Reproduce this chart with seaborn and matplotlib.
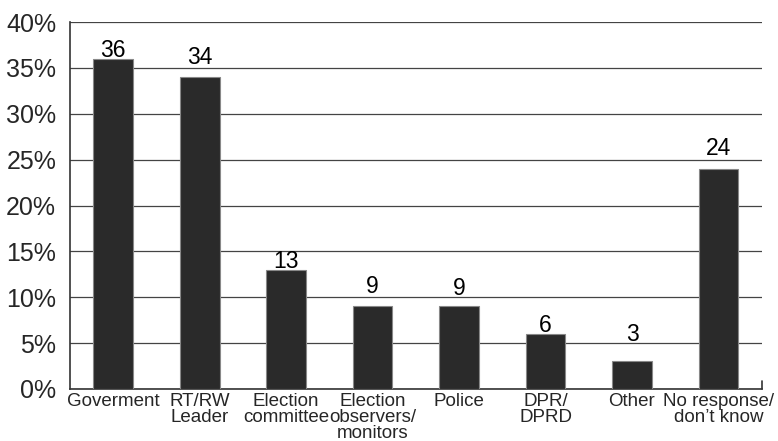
import numpy as np
import pandas as pd
import seaborn as sns
import matplotlib.pyplot as plt
from matplotlib.ticker import PercentFormatter

categories = ['Goverment', 'RT/RW\nLeader', 'Election\ncommittee', 'Election\nobservers/\nmonitors',
              'Police', 'DPR/\nDPRD', 'Other', 'No response/\ndon\u2019t know']
values = [36, 34, 13, 9, 9, 6, 3, 24]
# gap (points) between bar top and its number, as placed in the original
label_gap = [1.5, 9.5, 1, 9.5, 8, 1.5, 14.5, 10]

df = pd.DataFrame({'source': categories, 'pct': values})

sns.set_style('white')
plt.rcParams['font.family'] = ['Liberation Sans', 'DejaVu Sans']

fig = plt.figure(figsize=(7.78, 4.41), dpi=100)
ax = fig.add_axes([0.09, 0.118, 0.889, 0.832])

sns.barplot(data=df, x='source', y='pct', color='#2a2a2a', width=0.46,
            edgecolor='#888888', linewidth=0.8, saturation=1, ax=ax, zorder=3)

#value labels on top
for i, v in enumerate(values):
    ax.annotate(str(v), (i, v), xytext=(0, label_gap[i]), textcoords='offset points',
                ha='center', va='baseline', fontsize=16.5, color='black')

ax.set_ylim(0, 40)
ax.set_yticks(np.arange(0, 41, 5))
ax.yaxis.set_major_formatter(PercentFormatter(decimals=0))
ax.yaxis.grid(True, color='#444444', linewidth=0.9, zorder=0)
ax.set_axisbelow(True)
ax.set_xlim(-0.5, len(categories) - 0.5)
ax.set_xlabel('')
ax.set_ylabel('')
ax.tick_params(axis='y', labelsize=18, length=0, pad=10)
ax.tick_params(axis='x', labelsize=13.5, length=0, pad=3)
for lbl in ax.get_xticklabels():
    lbl.set_linespacing(0.9)

for s in ['left', 'bottom']:
    ax.spines[s].set_color('#333333')
    ax.spines[s].set_linewidth(1.2)
ax.spines['top'].set_visible(False)
ax.spines['right'].set_visible(False)
# little end tick at the right of the baseline
ax.plot([1, 1], [0, 0.022], transform=ax.transAxes, color='#333333', lw=1.2, clip_on=False)

fig.savefig('out.png', dpi=100)
